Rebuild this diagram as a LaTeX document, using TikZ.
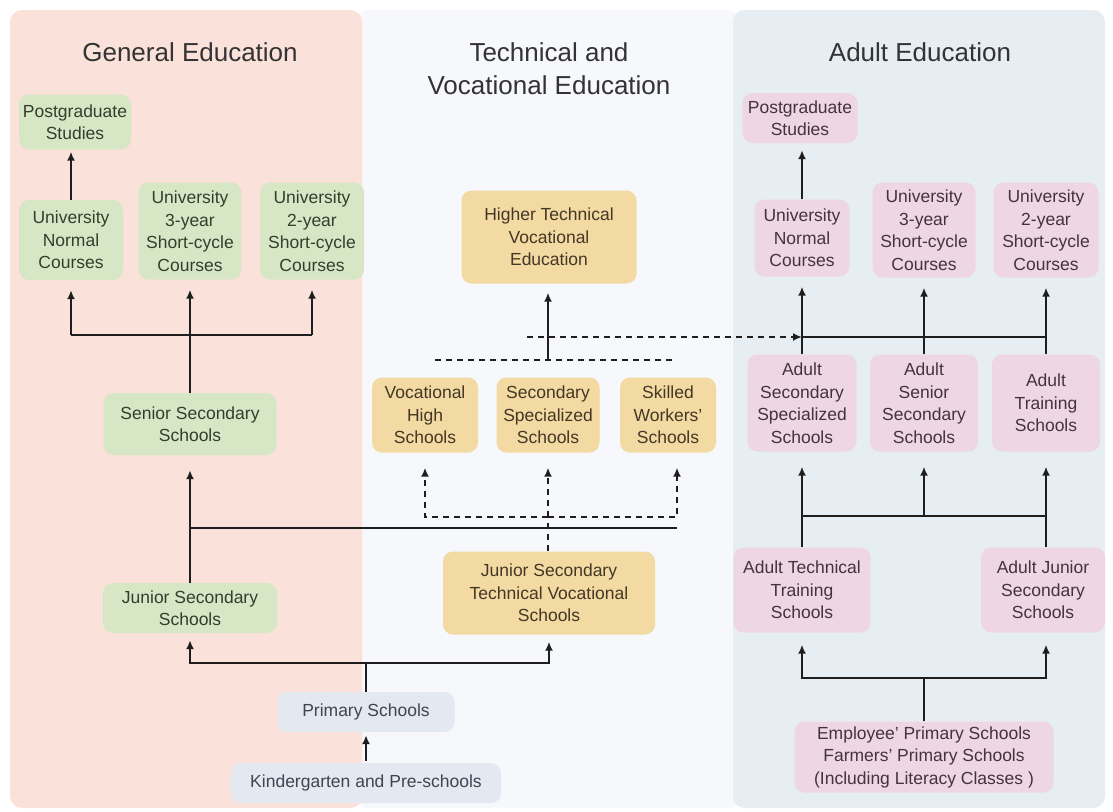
\documentclass[tikz,border=0pt]{standalone}
\usepackage{fontspec}
\setmainfont{Liberation Sans}
\usetikzlibrary{arrows.meta}
\def\largeur{1113}
\def\hauteur{811}

\definecolor{gepanel}{HTML}{FAE2DA}
\definecolor{tvpanel}{HTML}{F6F8FB}
\definecolor{adpanel}{HTML}{E6EDF3}
\definecolor{gefill}{HTML}{D7E7C5}
\definecolor{getext}{HTML}{333F2C}
\definecolor{tvfill}{HTML}{F3D9A2}
\definecolor{tvtext}{HTML}{433826}
\definecolor{adfill}{HTML}{EFD6E4}
\definecolor{adtext}{HTML}{433341}
\definecolor{prfill}{HTML}{E4E8F0}
\definecolor{prtext}{HTML}{3F4551}
\definecolor{ligne}{HTML}{1E1E1E}

\tikzset{
  boite/.style={rounded corners=10pt, align=center, inner sep=0pt,
    font=\fontsize{17.5}{22.5}\selectfont},
  gen/.style={boite, fill=gefill, text=getext},
  tech/.style={boite, fill=tvfill, text=tvtext},
  adu/.style={boite, fill=adfill, text=adtext},
  prim/.style={boite, fill=prfill, text=prtext},
  titre/.style={font=\fontsize{26}{33}\selectfont, text=black!80, align=center},
  trait/.style={draw=ligne, line width=2.2pt},
  fleche/.style={trait, -{Latex[length=9pt,width=8pt]}, shorten >=10pt},
  tirets/.style={fleche, dash pattern=on 6pt off 5pt},
  pointille/.style={trait, dash pattern=on 6pt off 5pt},
}

\begin{document}
\begin{tikzpicture}[x=1pt, y=-1pt]
    \useasboundingbox (0,0) rectangle (\largeur,\hauteur);
    \fill[white] (0,0) rectangle (\largeur,\hauteur);
% fonds des trois colonnes
    \fill[tvpanel, rounded corners=12pt] (356,10) rectangle (740,808);
    \fill[gepanel, rounded corners=12pt] (10,10) rectangle (362,808);
    \fill[adpanel, rounded corners=12pt] (733,10) rectangle (1105,808);

    \node[titre] (tge) at (190,52) {General Education};
    \node[titre] (ttv) at (549,69) {Technical and\\Vocational Education};
    \node[titre] (tad) at (920,52) {Adult Education};

% enseignement general
    \node[gen, minimum width=112pt, minimum height=55pt] (gpost) at (75,122) {Postgraduate\\Studies};
    \node[gen, minimum width=104pt, minimum height=80pt] (gnorm) at (71,240) {University\\Normal\\Courses};
    \node[gen, minimum width=103pt, minimum height=97pt] (gthree) at (190,231) {University\\3-year\\Short-cycle\\Courses};
    \node[gen, minimum width=104pt, minimum height=97pt] (gtwo) at (312,231) {University\\2-year\\Short-cycle\\Courses};
    \node[gen, minimum width=173pt, minimum height=62pt] (gsen) at (190,424) {Senior Secondary\\Schools};
    \node[gen, minimum width=174pt, minimum height=50pt] (gjun) at (190,608) {Junior Secondary\\Schools};
    \node[prim, minimum width=177pt, minimum height=40pt] (prim) at (366,712) {Primary Schools};
    \node[prim, minimum width=270pt, minimum height=40pt] (kind) at (366,783) {Kindergarten and Pre-schools};

% enseignement technique
    \node[tech, minimum width=175pt, minimum height=93pt] (higher) at (549,237) {Higher Technical\\Vocational\\Education};
    \node[tech, minimum width=106pt, minimum height=75pt] (voc) at (425,415) {Vocational\\High\\Schools};
    \node[tech, minimum width=103pt, minimum height=75pt] (secsp) at (548,415) {Secondary\\Specialized\\Schools};
    \node[tech, minimum width=96pt, minimum height=75pt] (skill) at (668,415) {Skilled\\Workers'\\Schools};
    \node[tech, minimum width=212pt, minimum height=83pt] (jstv) at (549,593) {Junior Secondary\\Technical Vocational\\Schools};

% enseignement des adultes
    \node[adu, minimum width=115pt, minimum height=50pt] (apost) at (800,118) {Postgraduate\\Studies};
    \node[adu, minimum width=95pt, minimum height=77pt] (anorm) at (802,238) {University\\Normal\\Courses};
    \node[adu, minimum width=103pt, minimum height=95pt] (athree) at (924,230) {University\\3-year\\Short-cycle\\Courses};
    \node[adu, minimum width=105pt, minimum height=95pt] (atwo) at (1046,230) {University\\2-year\\Short-cycle\\Courses};
    \node[adu, minimum width=109pt, minimum height=97pt] (asecsp) at (802,403) {Adult\\Secondary\\Specialized\\Schools};
    \node[adu, minimum width=108pt, minimum height=97pt] (asen) at (924,403) {Adult\\Senior\\Secondary\\Schools};
    \node[adu, minimum width=108pt, minimum height=97pt] (atrain) at (1046,403) {Adult\\Training\\Schools};
    \node[adu, minimum width=137pt, minimum height=85pt] (atech) at (802,590) {Adult Technical\\Training\\Schools};
    \node[adu, minimum width=124pt, minimum height=85pt] (ajun) at (1043,590) {Adult Junior\\Secondary\\Schools};
    \node[adu, minimum width=259pt, minimum height=71pt] (emp) at (924,757) {Employee' Primary Schools\\Farmers' Primary Schools\\(Including Literacy Classes )};

% liaisons, colonne de gauche
    \coordinate (gj) at (190,335);
    \draw[fleche, shorten >=2pt] (gnorm.north) -- (gnorm.north |- gpost.south);
    \draw[trait] (gsen.north) -- (gj);
    \draw[trait] (gnorm.south |- gj) -- (gtwo.south |- gj);
    \foreach \n in {gnorm,gthree,gtwo}
        \draw[fleche] (\n.south |- gj) -- (\n.south);

    \coordinate (mj) at (190,528);
    \coordinate (mr) at (677,528);
    \draw[trait] (gjun.north) -- (mj) -- (mr);
    \draw[fleche, shorten >=15pt] (mj) -- (gsen.south);

    \coordinate (bj) at (366,663);
    \draw[trait] (prim.north) -- (bj);
    \draw[fleche, shorten >=7pt] (bj) -| (gjun.south);
    \draw[fleche, shorten >=7pt] (bj) -| (jstv.south);
    \draw[fleche, shorten >=3pt, shorten <=2pt] (kind.north) -- (prim.south);

% liaisons, colonne du milieu
    \coordinate (dj) at (548,517);
    \coordinate (dr) at (677,517);
    \draw[pointille] (jstv.north -| dj) -- (dj);
    \draw[tirets, shorten >=15pt] (dj) -| (voc.south);
    \draw[tirets, shorten >=15pt] (dj) -- (dj |- secsp.south);
    \draw[tirets, shorten >=15pt] (dj) -- (dr) -- (dr |- skill.south);

    \coordinate (tj) at (548,360);
    \coordinate (tl) at (435,360);
    \coordinate (tr) at (673,360);
    \draw[pointille] (tl) -- (tr);
    \draw[fleche, shorten >=9pt] (tj) -- (tj |- higher.south);

    \coordinate (dl) at (527,337);
    \coordinate (aj) at (802,337);
    \draw[tirets, shorten >=0pt] (dl) -- (aj);

% liaisons, colonne de droite
    \draw[fleche, shorten >=7pt] (anorm.north) -- (anorm.north |- apost.south);
    \draw[trait] (aj) -- (atwo.south |- aj);
    \foreach \n in {anorm,athree,atwo}
        \draw[fleche] (\n.south |- aj) -- (\n.south);
    \foreach \n in {asecsp,asen,atrain}
        \draw[trait] (\n.north) -- (\n.north |- aj);

    \coordinate (amj) at (924,516);
    \draw[trait] (atech.north) -- (atech.north |- amj) -- (atrain.south |- amj) -- (atrain.south |- ajun.north);
    \foreach \n in {asecsp,asen,atrain}
        \draw[fleche, shorten >=15pt] (\n.south |- amj) -- (\n.south);

    \coordinate (abj) at (924,678);
    \draw[trait] (emp.north) -- (abj);
    \draw[fleche, shorten >=12pt] (abj) -| (atech.south);
    \draw[fleche, shorten >=12pt] (abj) -| (atrain.south |- ajun.south);
%\draw[step=50, very thin, black!20] (0,0) grid (\largeur,\hauteur);
\end{tikzpicture}
\end{document}
